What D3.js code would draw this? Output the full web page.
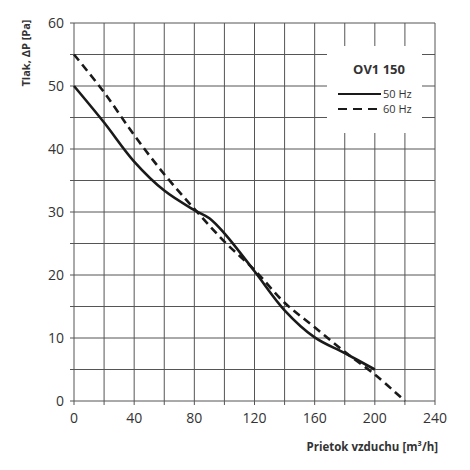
<!DOCTYPE html>
<html lang="sk">
<head>
<meta charset="utf-8">
<title>OV1 150</title>
<script src="https://cdn.jsdelivr.net/npm/d3@7"></script>
<style>
  body { margin: 0; background: #fff; }
  text { font-family: "Open Sans", sans-serif; fill: #333; }
</style>
</head>
<body>
<script>
// flow values [m3/h] and pressure [Pa]
var flow50 = [0, 20, 40, 60, 80, 90, 100, 120, 140, 160, 180, 200];
var press50 = [50, 44.2, 38, 33.4, 30.3, 29, 26.6, 20.6, 14.4, 10.1, 7.6, 5];
var flow60 = [0, 20, 40, 60, 80, 100, 120, 140, 160, 180, 200, 220];
var press60 = [55, 49, 42.2, 36, 30.5, 25.3, 20.8, 15.6, 11.7, 7.8, 4.2, 0];
var xTicks = [0, 40, 80, 120, 160, 200, 240];
var yTicks = [0, 10, 20, 30, 40, 50, 60];

var W = 470, H = 470;
var m = { left: 74, right: 35, top: 23, bottom: 69 };

var svg = d3.select("body").append("svg")
  .attr("width", W).attr("height", H);

var x = d3.scaleLinear().domain([0, 240]).range([m.left, W - m.right]);
var y = d3.scaleLinear().domain([0, 60]).range([H - m.bottom, m.top]);

// grid
var grid = svg.append("g").attr("stroke", "#555").attr("stroke-width", 1);
grid.selectAll("line.v").data(d3.range(0, 241, 20)).enter().append("line")
  .attr("x1", d => x(d)).attr("x2", d => x(d))
  .attr("y1", y(60)).attr("y2", y(0) + 4);
grid.selectAll("line.h").data(d3.range(0, 61, 5)).enter().append("line")
  .attr("y1", d => y(d)).attr("y2", d => y(d))
  .attr("x1", x(0) - 4).attr("x2", x(240));

// legend background cuts the grid
svg.append("rect")
  .attr("x", 327).attr("y", 46).attr("width", 95).attr("height", 87)
  .attr("fill", "#fff");

// tick labels
svg.append("g").selectAll("text").data(yTicks).enter().append("text")
  .attr("x", x(0) - 10).attr("y", d => y(d) + 5)
  .attr("text-anchor", "end").attr("font-size", 14)
  .text(d => d);
svg.append("g").selectAll("text").data(xTicks).enter().append("text")
  .attr("x", d => x(d)).attr("y", y(0) + 22)
  .attr("text-anchor", "middle").attr("font-size", 14)
  .text(d => d);

// curves
var line = d3.line().curve(d3.curveCatmullRom.alpha(0.5))
  .x(d => x(d[0])).y(d => y(d[1]));

svg.append("path")
  .datum(d3.zip(flow50, press50))
  .attr("d", line)
  .attr("fill", "none").attr("stroke", "#1a1a1a").attr("stroke-width", 2.6);

svg.append("path")
  .datum(d3.zip(flow60, press60))
  .attr("d", line)
  .attr("fill", "none").attr("stroke", "#1a1a1a").attr("stroke-width", 2.6)
  .attr("stroke-dasharray", "8,5");

// legend
svg.append("text")
  .attr("x", 379).attr("y", 74).attr("text-anchor", "middle")
  .attr("font-size", 13).attr("font-weight", "bold")
  .text("OV1 150");
svg.append("line")
  .attr("x1", 338).attr("x2", 381).attr("y1", 94).attr("y2", 94)
  .attr("stroke", "#1a1a1a").attr("stroke-width", 2);
svg.append("line")
  .attr("x1", 338).attr("x2", 381).attr("y1", 109).attr("y2", 109)
  .attr("stroke", "#1a1a1a").attr("stroke-width", 2)
  .attr("stroke-dasharray", "9,6");
svg.append("text").attr("x", 383).attr("y", 98)
  .attr("font-size", 11).text("50 Hz");
svg.append("text").attr("x", 383).attr("y", 113)
  .attr("font-size", 11).text("60 Hz");

// axis titles
svg.append("text")
  .attr("transform", "translate(30,53) rotate(-90)")
  .attr("text-anchor", "middle").attr("font-size", 11).attr("font-weight", "bold")
  .text("Tlak, ΔP [Pa]");
svg.append("text")
  .attr("x", 438).attr("y", 451).attr("text-anchor", "end")
  .attr("font-size", 11.5).attr("font-weight", "bold")
  .text("Prietok vzduchu  [m³/h]");
</script>
</body>
</html>
